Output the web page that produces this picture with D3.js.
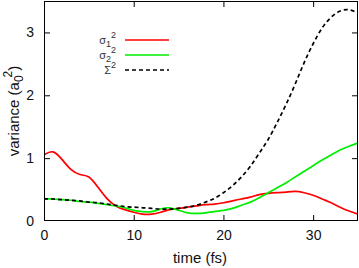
<!DOCTYPE html>
<html><head><meta charset="utf-8">
<script src="https://cdn.jsdelivr.net/npm/d3@7"></script>
<style>
html,body{margin:0;padding:0;background:#fff;}
svg{display:block;font-family:"Liberation Sans",Arial,Helvetica,sans-serif;}
</style></head>
<body>
<svg id="c" width="359" height="268"></svg>
<script>
const times = [0,1,2,3,4,5,6,7,8,9,10,11,12,13,14,15,16,17,18,19,20,21,22,23,24,25,26,27,28,29,30,31,32,33,34,35];
const sigma1 = [1.05,1.10,0.98,0.82,0.74,0.70,0.54,0.36,0.24,0.18,0.14,0.11,0.11,0.14,0.18,0.20,0.22,0.24,0.26,0.27,0.29,0.32,0.35,0.38,0.42,0.44,0.45,0.46,0.47,0.45,0.41,0.35,0.29,0.22,0.16,0.11];
const sigma2 = [0.35,0.35,0.34,0.33,0.31,0.30,0.28,0.26,0.24,0.21,0.17,0.15,0.15,0.19,0.21,0.17,0.13,0.12,0.13,0.15,0.17,0.20,0.25,0.30,0.37,0.45,0.53,0.61,0.70,0.79,0.88,0.97,1.05,1.13,1.19,1.24];
const bigSigma = [0.35,0.35,0.34,0.33,0.32,0.30,0.29,0.27,0.25,0.23,0.22,0.21,0.20,0.19,0.19,0.20,0.22,0.25,0.30,0.36,0.45,0.56,0.70,0.87,1.08,1.30,1.57,1.86,2.18,2.52,2.82,3.07,3.24,3.34,3.36,3.31];
const xTicks = [0,10,20,30];
const yTicks = [0,1,2,3];

const svg = d3.select("#c");
const L=44,R=358,T=1,B=221;
const x = d3.scaleLinear().domain([0,35]).range([L,R]);
const y = d3.scaleLinear().domain([0,3.5]).range([B,T]);
const TL = 6;

const gB = svg.append("g").attr("transform",`translate(0,${B})`)
  .call(d3.axisBottom(x).tickValues(xTicks).tickSizeInner(-TL).tickSizeOuter(0).tickPadding(TL+3).tickFormat(d3.format("d")));
const gT = svg.append("g").attr("transform",`translate(0,${T})`)
  .call(d3.axisTop(x).tickValues(xTicks).tickSizeInner(-TL).tickSizeOuter(0).tickFormat(""));
const gL = svg.append("g").attr("transform",`translate(${L},0)`)
  .call(d3.axisLeft(y).tickValues(yTicks).tickSizeInner(-TL).tickSizeOuter(0).tickPadding(TL+4).tickFormat(d3.format("d")));
const gR = svg.append("g").attr("transform",`translate(${R},0)`)
  .call(d3.axisRight(y).tickValues(yTicks).tickSizeInner(-TL).tickSizeOuter(0).tickFormat(""));
[gB,gT,gL,gR].forEach(g=>{
  g.select(".domain").remove();
  g.selectAll("line").attr("stroke","#000");
  g.selectAll("text").attr("fill","#111").style("font-size","14px").style("font-family","'Liberation Sans',Arial,sans-serif");
});
gT.selectAll(".tick").filter(d=>d===0).remove();
gB.selectAll(".tick line").filter(d=>d===0).remove();
gL.selectAll(".tick line").filter(d=>d===0).remove();
gR.selectAll(".tick").filter(d=>d===0).remove();

const line = d3.line().curve(d3.curveNatural);
const series = [
  {v:sigma1,color:"#ff0000",dash:null},
  {v:sigma2,color:"#00ee00",dash:null},
  {v:bigSigma,color:"#000",dash:"4,3"}
];
svg.append("clipPath").attr("id","cp").append("rect").attr("x",L).attr("y",T).attr("width",R-L).attr("height",B-T);
const plot = svg.append("g").attr("clip-path","url(#cp)");
series.forEach(s=>{
  plot.append("path").attr("d",line(times.map((t,i)=>[x(t),y(s.v[i])])))
    .attr("fill","none").attr("stroke",s.color).attr("stroke-width",1.7)
    .attr("stroke-dasharray",s.dash);
});

svg.append("rect").attr("x",L+0.5).attr("y",T+0.5).attr("width",R-L-1).attr("height",B-T-1)
  .attr("fill","none").attr("stroke","#000").attr("stroke-width",1);

const legend = [
  {base:"σ",sub:"1",sup:"2",color:"#ff0000",dash:null,y:40},
  {base:"σ",sub:"2",sup:"2",color:"#00ee00",dash:null,y:55},
  {base:"Σ",sub:null,sup:"2",color:"#000",dash:"4,3",y:70}
];
legend.forEach(l=>{
  svg.append("line").attr("x1",125).attr("x2",169).attr("y1",l.y).attr("y2",l.y)
    .attr("stroke",l.color).attr("stroke-width",1.7).attr("stroke-dasharray",l.dash);
  const t = svg.append("text").attr("x",116).attr("y",l.y+4).attr("text-anchor","end")
    .attr("fill","#333").style("font-size","11px");
  t.append("tspan").text(l.base);
  if(l.sub) t.append("tspan").attr("dy",3).style("font-size","9px").text(l.sub);
  t.append("tspan").attr("dy",l.sub?-9:-6).style("font-size","9px").text(l.sup);
});

svg.append("text").attr("x",200).attr("y",263).attr("text-anchor","middle")
  .attr("fill","#111").style("font-size","15px").text("time (fs)");
const yl = svg.append("text").attr("transform","translate(19,111) rotate(-90)").attr("text-anchor","middle")
  .attr("fill","#111").style("font-size","15px");
yl.append("tspan").text("variance (a");
yl.append("tspan").attr("dy",4).style("font-size","12px").text("0");
yl.append("tspan").attr("dy",-11).attr("dx",-2).style("font-size","12px").text("2");
yl.append("tspan").attr("dy",7).text(")");
</script>
</body></html>
